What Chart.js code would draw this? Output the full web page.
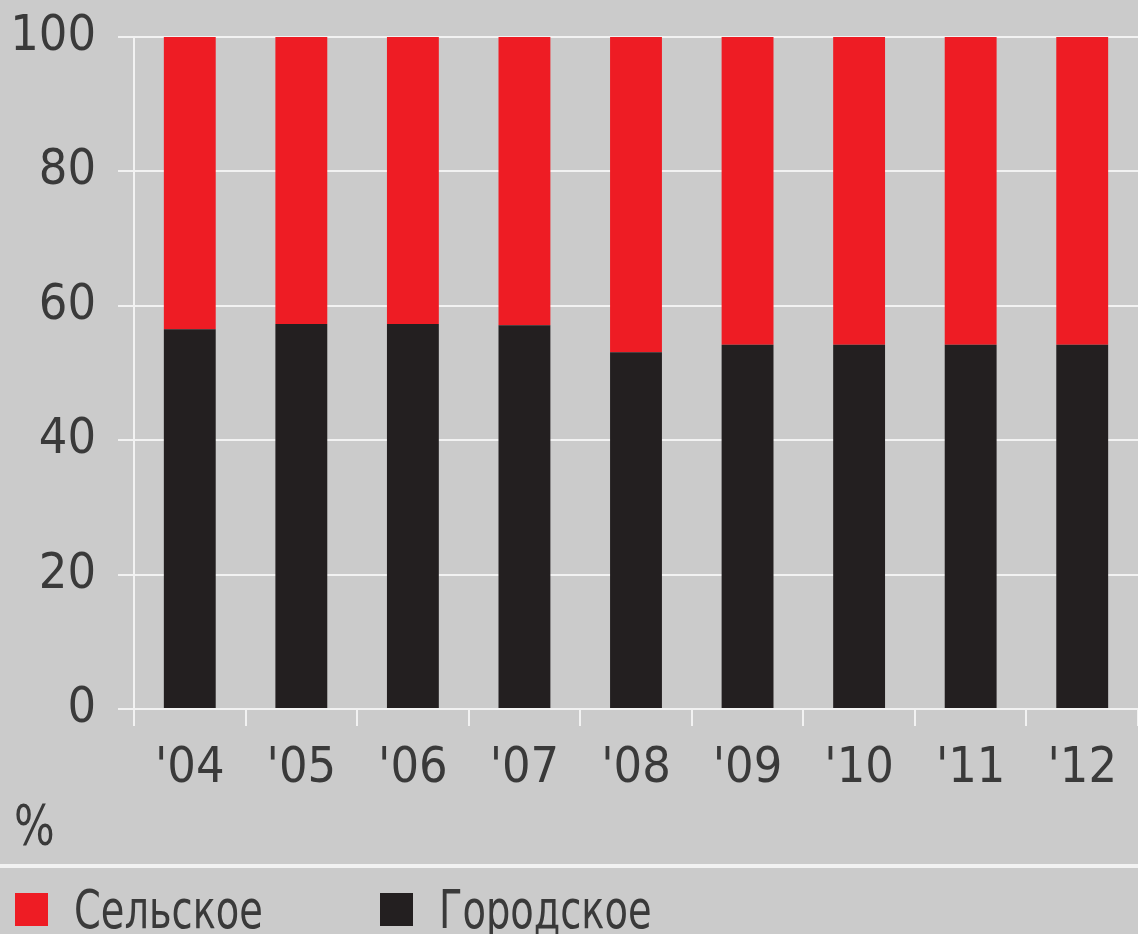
<!DOCTYPE html>
<html>
<head>
<meta charset="utf-8">
<script src="https://cdn.jsdelivr.net/npm/chart.js@4"></script>
<style>
  body { margin: 0; background: #cbcbcb; overflow: hidden; }
  #wrap { position: relative; width: 1138px; height: 934px; font-family: "DejaVu Sans Condensed", sans-serif; color: #3a3a3a; }
  #chart { position: absolute; left: 0; top: 0; }
  .unit { position: absolute; left: 14px; top: 792px; font-size: 56px; transform: scaleX(0.85); transform-origin: left; }
  .sep { position: absolute; left: 0; top: 864px; width: 1138px; height: 4px; background: #f2f2f2; }
  .item { position: absolute; top: 880px; font-size: 54px; line-height: 60px; white-space: nowrap; }
  .item i { display: inline-block; width: 33px; height: 33px; margin-right: 26px; vertical-align: 2px; }
  .item span { display: inline-block; transform: scaleX(0.79); transform-origin: left; }
</style>
</head>
<body>
<div id="wrap">
  <canvas id="chart" width="1138" height="934"></canvas>
  <div class="unit">%</div>
  <div class="sep"></div>
  <div class="item" style="left:15px"><i style="background:#ee1c24"></i><span>Сельское</span></div>
  <div class="item" style="left:380px"><i style="background:#231f20"></i><span>Городское</span></div>
</div>
<script>
// years along the x axis
const years = ["'04", "'05", "'06", "'07", "'08", "'09", "'10", "'11", "'12"];
// share of population, %
const urban = [56.5, 57.3, 57.3, 57.1, 53.1, 54.2, 54.2, 54.2, 54.2];
const rural = [43.5, 42.7, 42.7, 42.9, 46.9, 45.8, 45.8, 45.8, 45.8];
const yTicks = [0, 20, 40, 60, 80, 100];

const tickFont = { family: "'DejaVu Sans Condensed', sans-serif", size: 50 };
const gridColor = '#f2f2f2';

new Chart(document.getElementById('chart'), {
    type: 'bar',
    data: {
        labels: years,
        datasets: [
            { label: 'Городское', data: urban, backgroundColor: '#231f20' },
            { label: 'Сельское', data: rural, backgroundColor: '#ee1c24' }
        ]
    },
    options: {
        responsive: false,
        animation: false,
        layout: { padding: { top: 37, right: 0, bottom: 0, left: 0 } },
        datasets: { bar: { categoryPercentage: 1, barPercentage: 0.465 } },
        plugins: { legend: { display: false }, tooltip: { enabled: false } },
        scales: {
            x: {
                stacked: true,
                grid: { offset: true, drawOnChartArea: false, drawTicks: true, tickLength: 17, color: gridColor, lineWidth: 2 },
                border: { display: false },
                ticks: { font: tickFont, color: '#3a3a3a', padding: 13, maxRotation: 0 },
                afterFit: s => { s.height = 225; s.paddingLeft = 0; s.paddingRight = 0; }
            },
            y: {
                stacked: true,
                min: 0,
                max: 100,
                afterBuildTicks: s => { s.ticks = yTicks.map(v => ({ value: v })); },
                grid: { color: gridColor, lineWidth: 2, tickLength: 16 },
                border: { display: true, color: gridColor, width: 2 },
                ticks: { font: tickFont, color: '#3a3a3a', padding: 22 },
                afterFit: s => { s.width = 134; s.paddingTop = 0; s.paddingBottom = 0; }
            }
        }
    }
});
</script>
</body>
</html>
